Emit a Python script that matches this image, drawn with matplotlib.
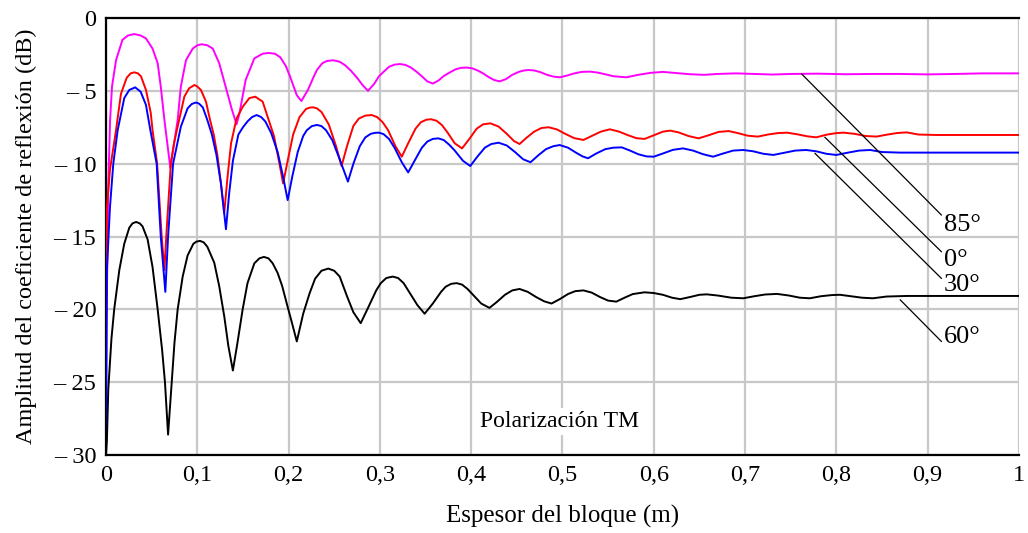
import numpy as np
import matplotlib
matplotlib.use("Agg")
import matplotlib.pyplot as plt

plt.rcParams['font.family'] = ['Liberation Serif', 'DejaVu Serif']

# 85 deg (magenta)
mag_x = [0.000, 0.001, 0.0025, 0.0045, 0.0066, 0.011, 0.018, 0.024, 0.031, 0.038,
         0.0438, 0.051, 0.0566, 0.060, 0.064, 0.0705, 0.0785, 0.082, 0.0876, 0.095,
         0.100, 0.105, 0.111, 0.117, 0.124, 0.131, 0.1375, 0.143, 0.146, 0.153,
         0.1625, 0.1716, 0.178, 0.185, 0.191, 0.197, 0.2015, 0.209, 0.214, 0.2215,
         0.227, 0.231, 0.237, 0.242, 0.249, 0.256, 0.262, 0.268, 0.275, 0.281,
         0.287, 0.294, 0.299, 0.304, 0.310, 0.316, 0.322, 0.328, 0.334, 0.340,
         0.346, 0.352, 0.358, 0.364, 0.370, 0.377, 0.383, 0.389, 0.395, 0.401,
         0.407, 0.413, 0.419, 0.425, 0.431, 0.438, 0.445, 0.452, 0.458, 0.463,
         0.469, 0.476, 0.483, 0.490, 0.497, 0.505, 0.513, 0.521, 0.530, 0.538,
         0.546, 0.556, 0.570, 0.583, 0.597, 0.610, 0.625, 0.640, 0.655, 0.670,
         0.690, 0.710, 0.730, 0.750, 0.780, 0.810, 0.840, 0.870, 0.900, 0.930,
         0.960, 1.000]
mag_y = [-21.0, -18.9, -11.6, -7.0, -4.7, -2.9, -1.5, -1.2, -1.1, -1.2,
         -1.4, -2.1, -3.1, -4.7, -7.0, -10.3, -7.0, -4.7, -2.9, -2.1,
         -1.87, -1.8, -1.87, -2.1, -3.1, -4.7, -6.2, -7.3, -6.6, -4.25,
         -2.77, -2.45, -2.4, -2.45, -2.7, -3.3, -4.0, -5.3, -5.7, -4.9,
         -4.1, -3.57, -3.1, -2.95, -2.9, -3.0, -3.25, -3.6, -4.1, -4.6,
         -5.0, -4.5, -4.0, -3.7, -3.35, -3.2, -3.16, -3.22, -3.4, -3.68,
         -4.0, -4.35, -4.5, -4.3, -3.98, -3.72, -3.52, -3.42, -3.4, -3.45,
         -3.6, -3.8, -4.05, -4.25, -4.35, -4.2, -3.9, -3.7, -3.6, -3.57,
         -3.6, -3.72, -3.9, -4.02, -4.07, -3.95, -3.8, -3.7, -3.68, -3.74,
         -3.85, -4.0, -4.07, -3.9, -3.76, -3.7, -3.78, -3.86, -3.9, -3.84,
         -3.80, -3.84, -3.88, -3.84, -3.82, -3.86, -3.84, -3.84, -3.87, -3.84,
         -3.8, -3.8]

# 0 deg (red)
red_x = [0.000, 0.0005, 0.001, 0.0044, 0.011, 0.0164, 0.0227, 0.027, 0.031, 0.035,
         0.0383, 0.0438, 0.049, 0.051, 0.056, 0.061, 0.064, 0.066, 0.071, 0.0745,
         0.0785, 0.0858, 0.091, 0.0968, 0.100, 0.104, 0.1095, 0.114, 0.118, 0.122,
         0.126, 0.1295, 0.133, 0.137, 0.143, 0.1497, 0.157, 0.1635, 0.1716, 0.177,
         0.184, 0.190, 0.194, 0.199, 0.205, 0.212, 0.219, 0.223, 0.227, 0.231,
         0.236, 0.244, 0.252, 0.258, 0.264, 0.271, 0.277, 0.284, 0.291, 0.297,
         0.303, 0.309, 0.317, 0.324, 0.331, 0.339, 0.345, 0.351, 0.356, 0.362,
         0.368, 0.374, 0.382, 0.390, 0.398, 0.406, 0.413, 0.421, 0.430, 0.439,
         0.447, 0.453, 0.461, 0.469, 0.477, 0.485, 0.494, 0.503, 0.513, 0.523,
         0.532, 0.542, 0.552, 0.562, 0.572, 0.581, 0.590, 0.600, 0.610, 0.618,
         0.627, 0.638, 0.649, 0.660, 0.671, 0.682, 0.692, 0.703, 0.714, 0.725,
         0.736, 0.746, 0.757, 0.768, 0.778, 0.790, 0.800, 0.808, 0.820, 0.832,
         0.844, 0.856, 0.866, 0.877, 0.890, 0.910, 1.000]
red_y = [-24.5, -20.0, -13.0, -10.4, -7.7, -5.2, -4.1, -3.8, -3.73, -3.8,
         -4.0, -4.94, -6.5, -7.7, -10.0, -15.0, -17.3, -15.0, -10.0, -8.6,
         -7.46, -5.4, -4.83, -4.6, -4.7, -4.94, -5.74, -7.0, -8.0, -9.4,
         -11.4, -13.4, -11.0, -8.6, -6.9, -6.1, -5.5, -5.4, -5.74, -6.77,
         -8.1, -10.0, -11.35, -9.8, -8.0, -6.8, -6.25, -6.15, -6.13, -6.2,
         -6.45, -7.3, -8.8, -10.16, -8.8, -7.4, -6.9, -6.7, -6.66, -6.8,
         -7.15, -7.7, -8.8, -9.52, -8.6, -7.6, -7.15, -6.98, -6.95, -7.05,
         -7.35, -7.85, -8.6, -8.95, -8.3, -7.6, -7.3, -7.23, -7.45, -7.95,
         -8.45, -8.65, -8.2, -7.8, -7.55, -7.5, -7.65, -7.95, -8.25, -8.37,
         -8.1, -7.8, -7.64, -7.8, -8.05, -8.25, -8.3, -8.05, -7.8, -7.73,
         -7.85, -8.1, -8.26, -8.05, -7.82, -7.76, -7.9, -8.08, -8.14, -8.0,
         -7.9, -7.87, -7.98, -8.12, -8.19, -8.0, -7.9, -7.87, -7.95, -8.1,
         -8.14, -8.0, -7.9, -7.85, -8.0, -8.03, -8.03]

# 30 deg (blue)
blue_x = [0.000, 0.0005, 0.001, 0.0044, 0.008, 0.0128, 0.020, 0.0255, 0.032, 0.038,
          0.0438, 0.0486, 0.0525, 0.0555, 0.060, 0.065, 0.068, 0.0735, 0.082, 0.0894,
          0.094, 0.0986, 0.102, 0.106, 0.111, 0.116, 0.121, 0.126, 0.1314, 0.135,
          0.139, 0.145, 0.150, 0.155, 0.160, 0.165, 0.170, 0.1745, 0.181, 0.188,
          0.194, 0.199, 0.204, 0.210, 0.216, 0.220, 0.2255, 0.231, 0.236, 0.241,
          0.248, 0.256, 0.265, 0.271, 0.278, 0.284, 0.290, 0.295, 0.299, 0.304,
          0.310, 0.316, 0.324, 0.331, 0.338, 0.346, 0.352, 0.358, 0.364, 0.370,
          0.376, 0.382, 0.391, 0.399, 0.407, 0.415, 0.422, 0.430, 0.439, 0.448,
          0.457, 0.465, 0.474, 0.482, 0.490, 0.497, 0.506, 0.515, 0.522, 0.528,
          0.537, 0.547, 0.556, 0.565, 0.574, 0.583, 0.592, 0.600, 0.610, 0.621,
          0.632, 0.643, 0.654, 0.665, 0.676, 0.687, 0.698, 0.709, 0.720, 0.731,
          0.743, 0.755, 0.767, 0.778, 0.789, 0.800, 0.812, 0.825, 0.837, 0.850,
          0.870, 1.000]
blue_y = [-28.3, -24.0, -17.3, -12.95, -10.0, -7.7, -5.5, -4.94, -4.76, -5.06,
          -5.97, -7.7, -9.0, -10.0, -15.0, -18.8, -15.0, -10.0, -7.46, -6.2,
          -5.9, -5.8, -5.88, -6.13, -7.0, -8.0, -9.4, -11.4, -14.5, -12.0,
          -9.8, -8.0, -7.5, -7.1, -6.8, -6.66, -6.8, -7.1, -7.9, -9.2,
          -10.9, -12.5, -10.9, -9.2, -8.1, -7.7, -7.42, -7.34, -7.42, -7.7,
          -8.4, -9.7, -11.23, -10.0, -8.8, -8.2, -7.95, -7.88, -7.87, -7.97,
          -8.3, -8.9, -9.9, -10.6, -9.8, -8.9, -8.48, -8.3, -8.26, -8.38,
          -8.7, -9.1, -9.8, -10.16, -9.5, -8.9, -8.65, -8.56, -8.75, -9.2,
          -9.7, -9.9, -9.4, -9.0, -8.8, -8.72, -8.9, -9.25, -9.5, -9.63,
          -9.3, -9.0, -8.9, -8.88, -9.1, -9.35, -9.5, -9.52, -9.3, -9.05,
          -8.95, -9.1, -9.35, -9.52, -9.3, -9.1, -9.06, -9.15, -9.32, -9.4,
          -9.25, -9.1, -9.06, -9.15, -9.32, -9.4, -9.25, -9.1, -9.06, -9.2,
          -9.24, -9.24]

# 60 deg (black)
blk_x = [0.000, 0.001, 0.0025, 0.006, 0.009, 0.0146, 0.020, 0.0255, 0.029, 0.033,
         0.037, 0.040, 0.0456, 0.051, 0.0566, 0.0615, 0.0646, 0.068, 0.072, 0.075,
         0.0785, 0.084, 0.0894, 0.0957, 0.099, 0.103, 0.107, 0.111, 0.1186, 0.124,
         0.1296, 0.134, 0.139, 0.144, 0.1497, 0.155, 0.1625, 0.168, 0.173, 0.178,
         0.1826, 0.188, 0.193, 0.198, 0.204, 0.209, 0.216, 0.223, 0.229, 0.236,
         0.2435, 0.250, 0.256, 0.264, 0.271, 0.279, 0.287, 0.296, 0.301, 0.307,
         0.314, 0.320, 0.326, 0.332, 0.341, 0.349, 0.358, 0.367, 0.372, 0.378,
         0.384, 0.390, 0.396, 0.402, 0.411, 0.420, 0.428, 0.437, 0.445, 0.453,
         0.462, 0.471, 0.480, 0.488, 0.497, 0.506, 0.514, 0.523, 0.532, 0.541,
         0.550, 0.559, 0.568, 0.577, 0.590, 0.600, 0.610, 0.620, 0.629, 0.640,
         0.650, 0.658, 0.670, 0.685, 0.698, 0.710, 0.722, 0.735, 0.748, 0.760,
         0.771, 0.783, 0.795, 0.804, 0.816, 0.828, 0.840, 0.855, 0.877, 1.000]
blk_y = [-30.0, -29.0, -25.5, -22.0, -20.0, -17.3, -15.5, -14.4, -14.1, -14.0,
         -14.1, -14.3, -15.2, -17.1, -20.0, -22.8, -25.0, -28.6, -25.0, -22.3,
         -20.0, -17.75, -16.3, -15.5, -15.35, -15.3, -15.4, -15.7, -16.8, -18.4,
         -20.5, -22.5, -24.2, -22.3, -20.0, -18.2, -16.84, -16.5, -16.4, -16.5,
         -16.84, -17.5, -18.4, -19.6, -21.0, -22.2, -20.3, -18.9, -17.9, -17.35,
         -17.2, -17.35, -17.75, -19.1, -20.2, -20.95, -19.9, -18.7, -18.2, -17.85,
         -17.75, -17.85, -18.2, -18.8, -19.7, -20.3, -19.6, -18.8, -18.45, -18.25,
         -18.2, -18.3, -18.6, -19.0, -19.6, -19.9, -19.5, -19.0, -18.7, -18.6,
         -18.8, -19.15, -19.45, -19.6, -19.3, -18.95, -18.75, -18.7, -18.85, -19.15,
         -19.4, -19.47, -19.2, -18.95, -18.83, -18.88, -19.0, -19.2, -19.3, -19.15,
         -19.0, -18.97, -19.05, -19.2, -19.24, -19.1, -18.98, -18.94, -19.05, -19.2,
         -19.24, -19.1, -19.02, -19.0, -19.1, -19.2, -19.24, -19.12, -19.08, -19.08]

# leader lines from curve to angle label
labels = ['85°', '0°', '30°', '60°']
lead_x0 = [0.762, 0.7875, 0.7766, 0.870]
lead_y0 = [-3.84, -8.19, -9.29, -19.35]
lead_x1 = [0.915, 0.915, 0.915, 0.915]
lead_y1 = [-13.52, -16.04, -17.87, -22.2]
text_y = [-14.2, -16.6, -18.3, -21.9]

xticks = np.arange(0, 1.01, 0.1)
xtick_labels = ['0', '0,1', '0,2', '0,3', '0,4', '0,5', '0,6', '0,7', '0,8', '0,9', '1']
yticks = [0, -5, -10, -15, -20, -25, -30]
ytick_labels = ['0', '\u2013 5', '\u2013 10', '\u2013 15', '\u2013 20', '\u2013 25', '\u2013 30']

fig, ax = plt.subplots(figsize=(10.28, 5.33), dpi=100)
fig.subplots_adjust(left=0.1031, right=0.9912, top=0.9662, bottom=0.1463)

ax.plot(mag_x, mag_y, color='#ff00ff', lw=1.4, zorder=3)
ax.plot(red_x, red_y, color='#ff0000', lw=1.4, zorder=3)
ax.plot(blue_x, blue_y, color='#0000ff', lw=1.4, zorder=3)
ax.plot(blk_x, blk_y, color='black', lw=1.4, zorder=3)

for x0, y0, x1, y1, ty, lab in zip(lead_x0, lead_y0, lead_x1, lead_y1, text_y, labels):
    ax.plot([x0, x1], [y0, y1], color='black', lw=0.9, zorder=4)
    ax.text(x1 + 0.003, ty, lab, fontsize=19, va='center', ha='left', zorder=5)

ax.text(0.497, -27.7, 'Polarización TM', fontsize=17, ha='center', va='center',
        bbox=dict(facecolor='white', edgecolor='none', pad=2), zorder=5)

ax.set_xlim(0, 1)
ax.set_ylim(-30, 0)
ax.set_xticks(xticks)
ax.set_xticklabels(xtick_labels)
ax.set_yticks(yticks)
ax.set_yticklabels(ytick_labels)
ax.tick_params(length=0, labelsize=17.5, pad=7)
ax.grid(True, color='#c8c8c8', lw=1.6, zorder=0)
ax.set_axisbelow(True)

for side in ['left', 'bottom', 'top']:
    ax.spines[side].set_color('black')
    ax.spines[side].set_linewidth(1.6)
ax.spines['right'].set_visible(False)

ax.set_xlabel('Espesor del bloque (m)', fontsize=18, labelpad=14)
ax.set_ylabel('Amplitud del coeficiente de reflexión (dB)', fontsize=17.5, labelpad=12)

fig.savefig('out.png', dpi=100)
